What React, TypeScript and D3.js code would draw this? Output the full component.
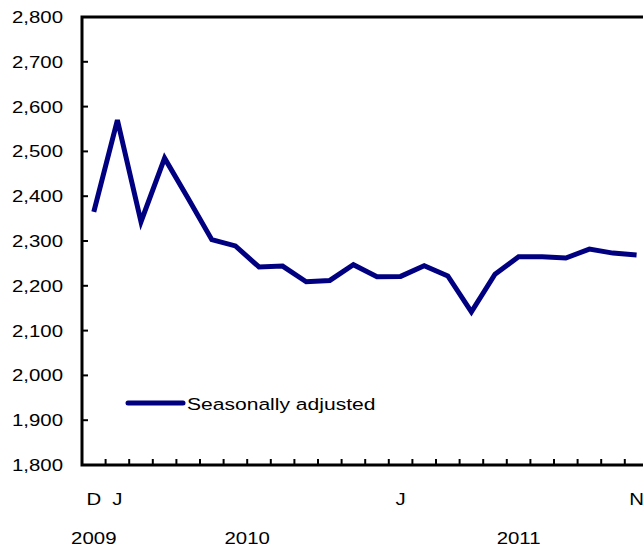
import { useEffect, useRef } from 'react';
import * as d3 from 'd3';

// Monthly values, Dec 2009 .. Nov 2011
const months = [
  '2009-12',
  '2010-01', '2010-02', '2010-03', '2010-04', '2010-05', '2010-06',
  '2010-07', '2010-08', '2010-09', '2010-10', '2010-11', '2010-12',
  '2011-01', '2011-02', '2011-03', '2011-04', '2011-05', '2011-06',
  '2011-07', '2011-08', '2011-09', '2011-10', '2011-11',
];
const seasonallyAdjusted = [
  2365, 2570, 2343, 2485, 2395, 2303, 2289, 2242, 2244, 2209, 2212, 2247,
  2220, 2221, 2245, 2222, 2142, 2226, 2265, 2265, 2262, 2282, 2273, 2269,
];
const monthLabels: Record<string, string> = { '2009-12': 'D', '2010-01': 'J', '2011-01': 'J', '2011-11': 'N' };
const years = ['2009', '2010', '2011'];
const yTicks = d3.range(1800, 2801, 100);
const seriesName = 'Seasonally adjusted';

const W = 643;
const H = 550;
const FONT = '"Liberation Sans", Arial, sans-serif';

export default function App() {
  const svgRef = useRef<SVGSVGElement>(null);

  useEffect(() => {
    if (!svgRef.current) return;
    const svg = d3.select(svgRef.current);
    svg.selectAll('*').remove();

    const left = 82;
    const top = 17;
    const bottom = 465;
    const step = 23.6;

    const x = d3.scaleBand<string>()
      .domain(months)
      .range([left, left + step * months.length]);
    const y = d3.scaleLinear().domain([1800, 2800]).range([bottom, top]);
    const cx = (m: string) => (x(m) ?? 0) + x.bandwidth() / 2;

    const addText = (tx: number, ty: number, s: string, anchor: string, sx = 1.2) =>
      svg.append('text')
        .attr('transform', `translate(${tx},${ty}) scale(${sx},1)`)
        .attr('text-anchor', anchor)
        .attr('font-family', FONT)
        .attr('font-size', 17)
        .attr('fill', '#000')
        .text(s);

    // y ticks (inward) and labels
    yTicks.forEach(t => {
      svg.append('line')
        .attr('x1', left).attr('x2', left + 6)
        .attr('y1', y(t)).attr('y2', y(t))
        .attr('stroke', '#000').attr('stroke-width', 2);
      addText(63, y(t) + 6, d3.format(',')(t), 'end');
    });

    // x ticks at month boundaries
    months.slice(1).forEach(m => {
      const tx = x(m) ?? 0;
      svg.append('line')
        .attr('x1', tx).attr('x2', tx)
        .attr('y1', bottom).attr('y2', bottom - 6)
        .attr('stroke', '#000').attr('stroke-width', 2);
    });

    // frame
    const right = left + step * months.length;
    svg.append('path')
      .attr('d', `M${right},${top} H${left} V${bottom} H${right}`)
      .attr('fill', 'none')
      .attr('stroke', '#000')
      .attr('stroke-width', 3);

    // month and year labels
    months.forEach(m => {
      if (monthLabels[m]) addText(cx(m), 505, monthLabels[m], 'middle');
    });
    years.forEach(yr => {
      const ms = months.filter(m => m.startsWith(yr));
      const mid = (cx(ms[0]) + cx(ms[ms.length - 1])) / 2;
      addText(mid, 544, yr, 'middle');
    });

    // series line
    const line = d3.line<number>()
      .x((_, i) => cx(months[i]))
      .y(d => y(d));
    svg.append('path')
      .datum(seasonallyAdjusted)
      .attr('d', line)
      .attr('fill', 'none')
      .attr('stroke', '#000080')
      .attr('stroke-width', 5);

    // legend
    svg.append('line')
      .attr('x1', 128).attr('x2', 183)
      .attr('y1', 403).attr('y2', 403)
      .attr('stroke', '#000080')
      .attr('stroke-width', 5)
      .attr('stroke-linecap', 'round');
    addText(187, 410, seriesName, 'start', 1.24);
  }, []);

  return (
    <svg
      ref={svgRef}
      width={W}
      height={H}
      style={{ position: 'absolute', left: 0, top: 0, background: '#fff' }}
    />
  );
}
